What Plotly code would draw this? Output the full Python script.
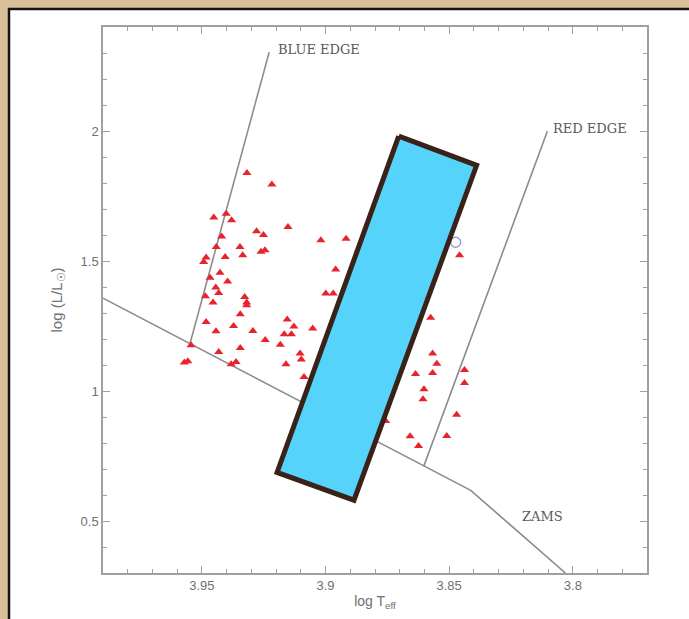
import plotly.graph_objects as go

# Red triangles: log Teff, log L/Lsun
star_logT = [3.9318, 3.9217, 3.9452, 3.9402, 3.9380, 3.9279, 3.9251, 3.9152, 3.9420, 3.9442,
             3.9346, 3.9335, 3.9406, 3.9261, 3.9245, 3.9019, 3.8917, 3.9483, 3.9493, 3.8959,
             3.9427, 3.9467, 3.9396, 3.9444, 3.9432, 3.9486, 3.9455, 3.8999, 3.8969, 3.9327,
             3.9319, 3.9319, 3.9345, 3.9155, 3.9128, 3.9052, 3.9483, 3.9443, 3.9372, 3.9294,
             3.9167, 3.9138, 3.9244, 3.9183, 3.9544, 3.9432, 3.9345, 3.9557, 3.9571, 3.9362,
             3.9382, 3.9103, 3.9098, 3.9160, 3.9087, 3.8458, 3.8575, 3.8567, 3.8550, 3.8636,
             3.8567, 3.8438, 3.8438, 3.8602, 3.8606, 3.8470, 3.8658, 3.8624, 3.8510, 3.8757]
star_logL = [1.838, 1.794, 1.667, 1.682, 1.657, 1.614, 1.600, 1.631, 1.594, 1.554,
             1.554, 1.522, 1.515, 1.536, 1.541, 1.580, 1.586, 1.513, 1.496, 1.467,
             1.455, 1.436, 1.421, 1.398, 1.377, 1.364, 1.340, 1.375, 1.375, 1.362,
             1.340, 1.330, 1.295, 1.275, 1.248, 1.240, 1.265, 1.230, 1.250, 1.231,
             1.218, 1.218, 1.196, 1.178, 1.176, 1.150, 1.165, 1.114, 1.110, 1.112,
             1.103, 1.144, 1.121, 1.103, 1.054, 1.522, 1.282, 1.144, 1.105, 1.065,
             1.069, 1.081, 1.031, 1.007, 0.968, 0.909, 0.826, 0.788, 0.827, 0.885]

# Open circle
circle_logT = [3.8474]
circle_logL = [1.572]

# Reference lines
zams_logT = [3.99, 3.8413, 3.803]
zams_logL = [1.357, 0.618, 0.30]
blue_edge_logT = [3.955, 3.9228]
blue_edge_logL = [1.176, 2.303]
red_edge_logT = [3.8603, 3.8103]
red_edge_logL = [0.710, 1.999]

# Overlay box corners
box_logT = [3.8704, 3.8389, 3.8885, 3.9196, 3.8704]
box_logL = [1.980, 1.868, 0.580, 0.687, 1.980]

# Labels
label_text = ["BLUE EDGE", "RED EDGE", "ZAMS"]
label_logT = [3.920, 3.8087, 3.8212]
label_logL = [2.314, 2.010, 0.518]

x_ticks = [3.95, 3.9, 3.85, 3.8]
x_ticklabels = ["3.95", "3.9", "3.85", "3.8"]
y_ticks = [0.5, 1, 1.5, 2]
y_ticklabels = ["0.5", "1", "1.5", "2"]

line_gray = "#8c8c8c"
fig = go.Figure()

for xs, ys in [(zams_logT, zams_logL), (blue_edge_logT, blue_edge_logL), (red_edge_logT, red_edge_logL)]:
    fig.add_trace(go.Scatter(x=xs, y=ys, mode="lines",
                             line=dict(color=line_gray, width=1.6),
                             showlegend=False, hoverinfo="skip", cliponaxis=True))

fig.add_trace(go.Scatter(x=star_logT, y=star_logL, mode="markers",
                         marker=dict(symbol="triangle-up", size=8, color="#e8232d",
                                     line=dict(width=0)),
                         showlegend=False))
fig.add_trace(go.Scatter(x=circle_logT, y=circle_logL, mode="markers",
                         marker=dict(symbol="circle-open", size=10, color="#9a9ed8",
                                     line=dict(width=1.5)),
                         showlegend=False))
fig.add_trace(go.Scatter(x=box_logT, y=box_logL, mode="lines", fill="toself",
                         fillcolor="#55d3fb", line=dict(color="#3a2219", width=5),
                         showlegend=False, hoverinfo="skip"))

for t, x, y in zip(label_text, label_logT, label_logL):
    fig.add_annotation(x=x, y=y, text=t, showarrow=False, xanchor="left", yanchor="middle",
                       font=dict(family="DejaVu Serif", size=13, color="#5a5a5a"))

# Page frame: white panel with dark border on parchment
fig.add_shape(type="rect", xref="paper", yref="paper",
              x0=(9 - 103) / 544, x1=1.2, y0=-0.2, y1=(573 - 9) / 546,
              fillcolor="white", line=dict(color="#151515", width=2.5), layer="below")

axis_common = dict(showgrid=False, zeroline=False, showline=True, linecolor="#a0a0a0",
                   linewidth=1.5, mirror="allticks", ticks="inside", ticklen=7,
                   tickcolor="#a0a0a0", tickwidth=1,
                   tickfont=dict(family="Liberation Sans", size=13, color="#707070"))

fig.update_xaxes(range=[3.99, 3.77], tickvals=x_ticks, ticktext=x_ticklabels,
                 minor=dict(dtick=0.01, tick0=3.8, ticks="inside", ticklen=4,
                            tickcolor="#a0a0a0", showgrid=False),
                 title=dict(text="log T<sub>eff</sub>", standoff=4,
                            font=dict(family="Liberation Sans", size=14, color="#707070")),
                 **axis_common)
fig.update_yaxes(range=[0.3, 2.4], tickvals=y_ticks, ticktext=y_ticklabels,
                 minor=dict(dtick=0.1, tick0=0.3, ticks="inside", ticklen=4,
                            tickcolor="#a0a0a0", showgrid=False),
                 title=dict(text="log (L/L<sub>☉</sub>)", standoff=14,
                            font=dict(family="Liberation Sans", size=15, color="#707070")),
                 **axis_common)

fig.update_layout(width=689, height=619, margin=dict(l=103, r=42, t=27, b=46),
                  paper_bgcolor="#d8c19a", plot_bgcolor="white", showlegend=False)

fig.write_html("out.html")
